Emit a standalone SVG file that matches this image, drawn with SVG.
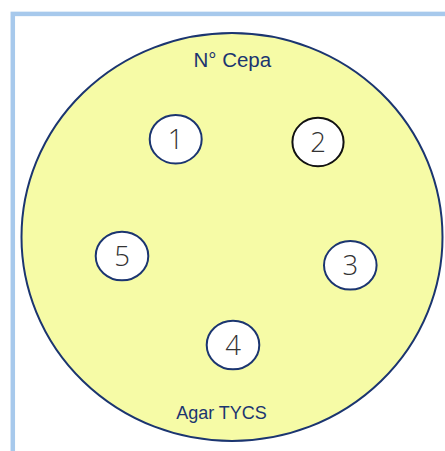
<svg xmlns="http://www.w3.org/2000/svg" width="445" height="451" viewBox="0 0 445 451">
<style>
.frame{fill:none;stroke:#A7C9EC;stroke-width:4.5}
.plate{fill:#F6FBA6;stroke:#1B3570;stroke-width:2}
.well{fill:#FFFFFF;stroke:#1B3570;stroke-width:2}
.well.blk{stroke:#111111}
.num{font-family:"Open Sans","Liberation Sans",sans-serif;font-weight:300;font-size:27.5px;fill:#333333;text-anchor:middle}
.lbl{font-family:"Liberation Sans",Arial,sans-serif;fill:#1B3570;text-anchor:middle}
</style>
<rect class="frame" x="12.8" y="13.9" width="460" height="460"/>
<g id="plate">
<ellipse class="plate" cx="232" cy="237" rx="210.5" ry="204"/>
<text class="lbl" x="232.3" y="67" font-size="20.5">N° Cepa</text>
<text class="lbl" x="221.5" y="419" font-size="18">Agar TYCS</text>
</g>
<g id="c1"><ellipse class="well" cx="175.7" cy="139.2" rx="26" ry="24.3"/><text class="num" x="175.7" y="149">1</text></g>
<g id="c2"><ellipse class="well blk" cx="318" cy="142" rx="25.6" ry="24.2"/><text class="num" x="318" y="151.8">2</text></g>
<g id="c3"><ellipse class="well" cx="350.3" cy="265.3" rx="26.3" ry="24.3"/><text class="num" x="350.3" y="275.1">3</text></g>
<g id="c4"><ellipse class="well" cx="233" cy="345" rx="26.3" ry="24.3"/><text class="num" x="233" y="354.8">4</text></g>
<g id="c5"><ellipse class="well" cx="122" cy="256" rx="26.3" ry="24.3"/><text class="num" x="122" y="265.8">5</text></g>
<g id="connectors"/>
</svg>
